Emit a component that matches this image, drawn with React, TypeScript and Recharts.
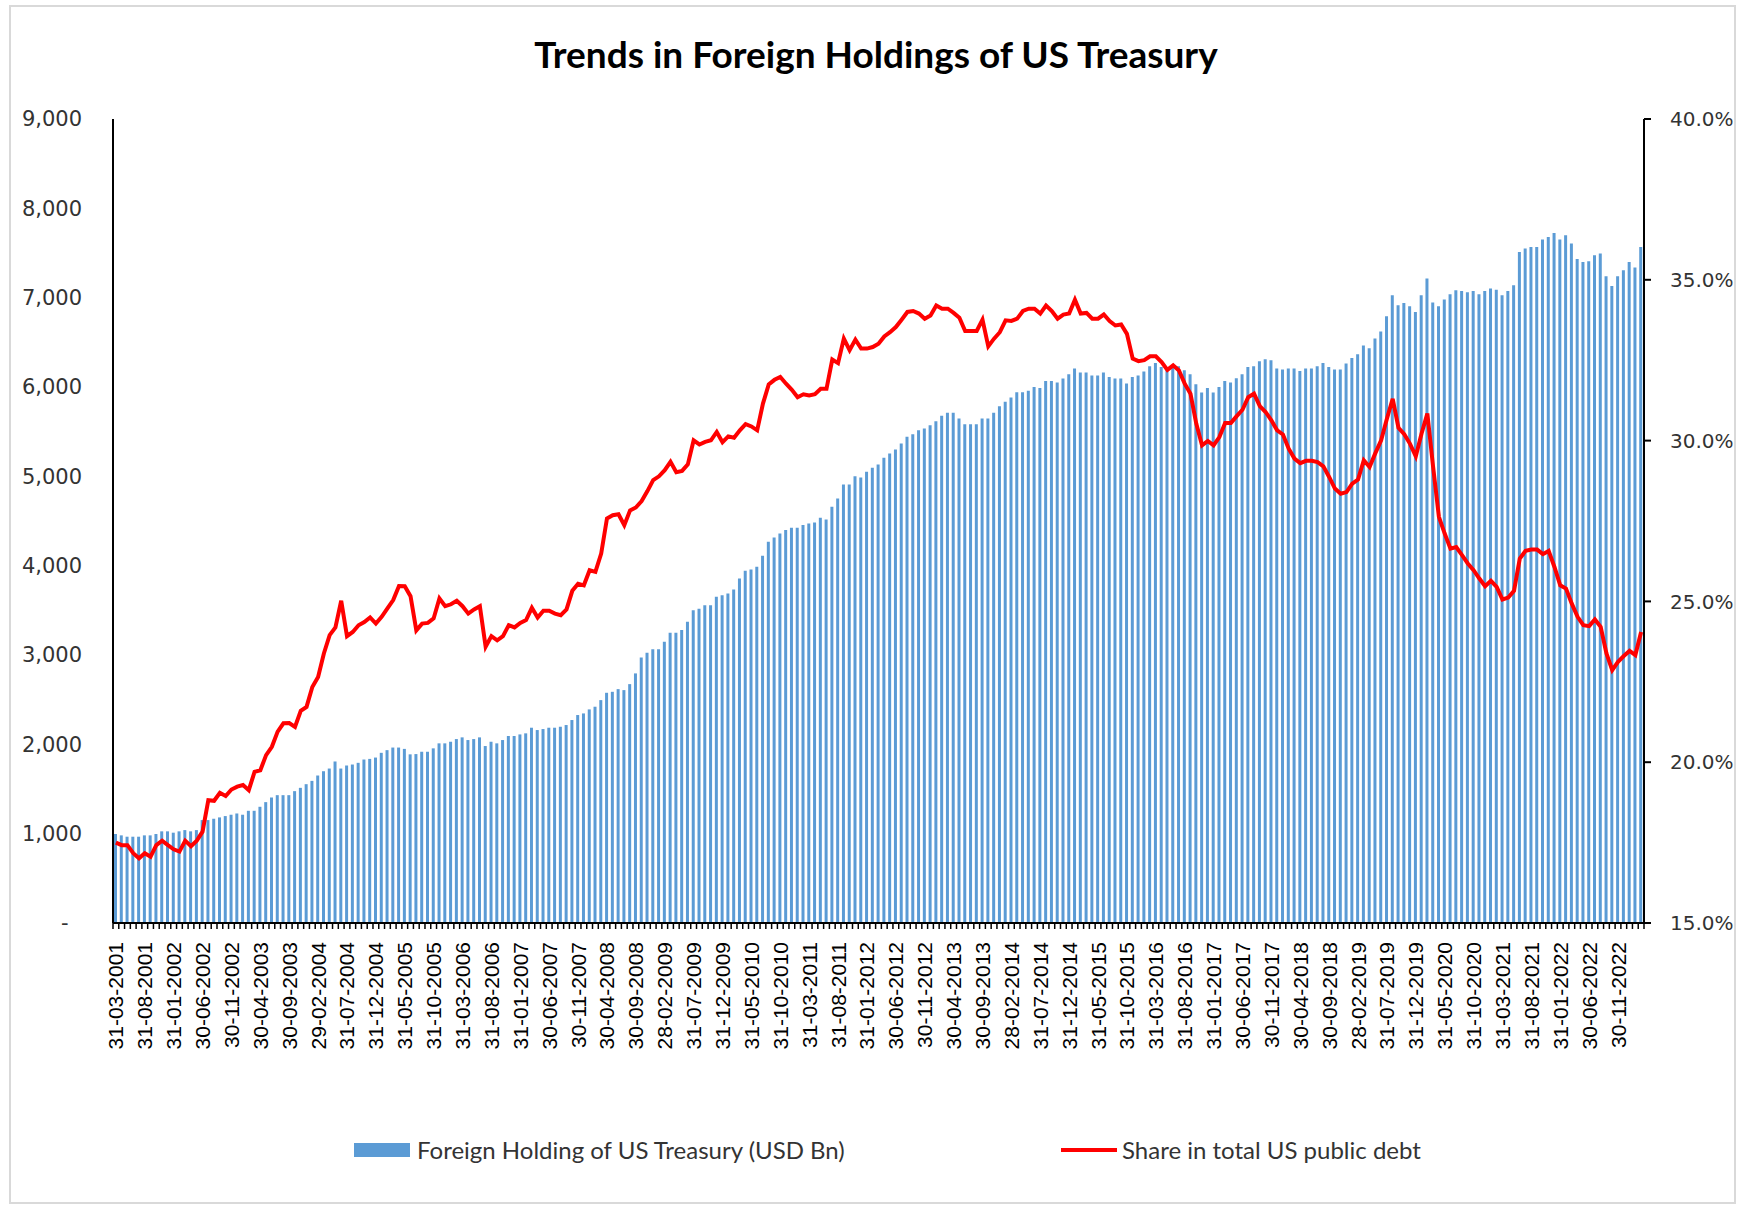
import React from 'react';
import { ComposedChart, Bar, Line, XAxis, YAxis, Legend } from 'recharts';

// monthly series, end of month, starting March 2001
const START_YEAR = 2001;
const START_MONTH = 3;

// Foreign holding of US Treasury (USD Bn)
const holdings = [
  996, 981, 966, 966, 966, 981, 981, 996, 1026, 1026, 1011, 1026, 1040, 1026, 1040,
  1152, 1152, 1167, 1182, 1197, 1212, 1226, 1212, 1256, 1256, 1301, 1353, 1405, 1431, 1431,
  1431, 1476, 1513, 1554, 1591, 1651, 1699, 1729, 1808, 1729, 1763, 1774, 1793, 1830, 1837,
  1852, 1905, 1935, 1964, 1964, 1949, 1888,
  1891, 1917, 1917, 1955, 2011, 2011, 2029, 2059, 2078, 2048, 2059, 2078, 1981, 2029, 2011,
  2048, 2093, 2093, 2111, 2123, 2186, 2160, 2171, 2186, 2186, 2197, 2216, 2272, 2328, 2346,
  2391, 2421, 2495, 2577, 2588, 2618, 2607, 2674, 2794, 2973, 3025, 3063, 3063, 3148, 3249,
  3249, 3279, 3372, 3502, 3517, 3558, 3558, 3651, 3670,
  3689, 3734, 3857, 3942, 3958, 3987, 4110, 4267, 4316, 4361, 4398, 4424, 4424, 4454, 4473,
  4484, 4536, 4518, 4659, 4752, 4909, 4909, 5002, 4987, 5050, 5095, 5133, 5207, 5256, 5301,
  5368, 5442, 5472, 5517, 5535, 5573, 5617, 5677, 5711, 5711, 5647, 5584, 5584, 5584, 5647,
  5647, 5711, 5785, 5834, 5882, 5942, 5942, 5957,
  6001, 5990, 6068, 6068, 6050, 6095, 6143, 6207, 6162, 6162, 6128, 6128, 6162, 6113, 6095,
  6095, 6039, 6113, 6128, 6173, 6233, 6270, 6225, 6218, 6244, 6233, 6188, 6143, 6031, 5938,
  5990, 5938, 6001, 6068, 6050, 6099, 6143, 6225, 6233, 6289, 6311, 6300, 6207, 6196, 6207,
  6207, 6180, 6207, 6207, 6233, 6270, 6225, 6196, 6196, 6263, 6326, 6367, 6464, 6434, 6543,
  6621, 6792, 7027, 6915, 6941, 6904, 6840, 7027, 7214, 6945, 6904, 6979, 7038, 7083, 7075,
  7061, 7075, 7038, 7075, 7102, 7090, 7027, 7075, 7139, 7512, 7550, 7568, 7568, 7650, 7680,
  7724, 7650, 7699, 7606, 7434, 7400, 7408, 7475, 7494, 7240, 7131, 7240, 7307, 7400, 7337, 7568,
];

// Share in total US public debt (%)
const share = [
  17.5, 17.42, 17.42, 17.17, 17.01, 17.17, 17.06, 17.42, 17.56, 17.42, 17.29, 17.22, 17.56, 17.39, 17.56,
  17.84, 18.82, 18.8, 19.05, 18.95, 19.15, 19.24, 19.29, 19.13, 19.7, 19.75, 20.22, 20.48, 20.95, 21.21,
  21.22, 21.1, 21.6, 21.72, 22.34, 22.65, 23.38, 23.95, 24.19, 25.02, 23.92, 24.05, 24.26, 24.36, 24.5,
  24.31, 24.52, 24.78, 25.04, 25.48, 25.47, 25.16, 24.1, 24.31, 24.33, 24.47, 25.09, 24.85, 24.91, 25.02,
  24.85, 24.62, 24.75, 24.85, 23.59, 23.92, 23.79, 23.92, 24.26, 24.19, 24.33, 24.42, 24.8, 24.5, 24.71,
  24.71, 24.62, 24.57, 24.75, 25.33, 25.55, 25.5, 25.97, 25.92, 26.49, 27.58, 27.68, 27.71, 27.37, 27.83,
  27.92, 28.12, 28.43, 28.77, 28.89, 29.08, 29.34, 29.02, 29.06, 29.26, 30.01, 29.88, 29.96, 30.01, 30.27,
  29.95, 30.13, 30.09, 30.32, 30.51, 30.44, 30.32, 31.15, 31.75, 31.89, 31.98, 31.77, 31.58, 31.35, 31.44,
  31.4, 31.44, 31.61, 31.61, 32.52, 32.41, 33.17, 32.81, 33.14, 32.86, 32.86, 32.91, 33.01, 33.24, 33.37,
  33.53, 33.76, 34.0, 34.03, 33.95, 33.79, 33.89, 34.2, 34.1, 34.1, 33.97, 33.82, 33.41, 33.41, 33.41,
  33.76, 32.93, 33.17, 33.37, 33.74, 33.72, 33.79, 34.03, 34.1, 34.1, 33.95, 34.2, 34.03, 33.79, 33.92,
  33.95, 34.38, 33.95, 33.97, 33.79, 33.79, 33.92, 33.72, 33.58, 33.61, 33.32, 32.55, 32.47, 32.5, 32.62,
  32.62, 32.44, 32.2, 32.34, 32.18, 31.77, 31.46, 30.53, 29.85, 29.99, 29.85, 30.11, 30.55, 30.55, 30.76,
  30.96, 31.35, 31.46, 31.07, 30.89, 30.63, 30.32, 30.19, 29.75, 29.44, 29.3, 29.37, 29.37, 29.33, 29.2,
  28.87, 28.51, 28.35, 28.4, 28.66, 28.79, 29.39, 29.18, 29.61, 30.01, 30.68, 31.3, 30.4, 30.2, 29.9,
  29.51, 30.22, 30.84, 29.18, 27.63, 27.11, 26.64, 26.69, 26.44, 26.18, 25.97, 25.71, 25.47, 25.64, 25.45,
  25.06, 25.12, 25.33, 26.33, 26.57, 26.61, 26.61, 26.47, 26.57, 26.07, 25.5, 25.4, 24.93, 24.52, 24.26,
  24.23, 24.44, 24.21, 23.38, 22.86, 23.12, 23.3, 23.46, 23.33, 24.05,
];

const leftTicks = [0, 1000, 2000, 3000, 4000, 5000, 6000, 7000, 8000, 9000];
const rightTicks = [15, 20, 25, 30, 35, 40];
const LABEL_EVERY = 5;

const BAR_COLOR = '#5B9BD5';
const LINE_COLOR = '#FF0000';
const TEXT_COLOR = '#333333';

const W = 1738;
const H = 1207;
const PLOT_LEFT = 113;
const PLOT_RIGHT = 1644;

function monthEnd(i: number) {
  const m0 = START_MONTH - 1 + i;
  const y = START_YEAR + Math.floor(m0 / 12);
  const m = m0 % 12;
  const d = new Date(y, m + 1, 0).getDate();
  return `${String(d).padStart(2, '0')}-${String(m + 1).padStart(2, '0')}-${y}`;
}

const data = holdings.map((h, i) => ({ date: monthEnd(i), holdings: h, share: share[i] }));
const BAND = (PLOT_RIGHT - PLOT_LEFT) / data.length;

function DateTick(props: any) {
  const { x, y, payload, index } = props;
  const idx = payload?.index ?? index;
  const tx = x;
  const ty = y + 13;
  return (
    <g>
      <line x1={x - BAND / 2} x2={x - BAND / 2} y1={y - 6} y2={y} stroke="#000" strokeWidth={1.5} />
      {idx === data.length - 1 && (
        <line x1={x + BAND / 2} x2={x + BAND / 2} y1={y - 6} y2={y} stroke="#000" strokeWidth={1.5} />
      )}
      {idx % LABEL_EVERY === 0 && (
        <text
          x={tx}
          y={ty}
          transform={`rotate(-90 ${tx} ${ty})`}
          textAnchor="end"
          dominantBaseline="central"
          fontSize={21}
          fontFamily="'Liberation Sans', Arial, sans-serif"
          fill="#000"
        >
          {payload.value}
        </text>
      )}
    </g>
  );
}

function LegendBox() {
  const text: React.CSSProperties = {
    position: 'absolute',
    top: 0,
    fontFamily: 'Lato, sans-serif',
    fontSize: 24,
    lineHeight: '40px',
    color: TEXT_COLOR,
    whiteSpace: 'nowrap',
  };
  return (
    <div style={{ position: 'relative', width: W, height: 40 }}>
      <div style={{ position: 'absolute', left: 354, top: 13, width: 56, height: 14, background: BAR_COLOR }} />
      <span style={{ ...text, left: 417 }}>Foreign Holding of US Treasury (USD Bn)</span>
      <div style={{ position: 'absolute', left: 1061, top: 18, width: 56, height: 4, background: LINE_COLOR }} />
      <span style={{ ...text, left: 1122 }}>Share in total US public debt</span>
    </div>
  );
}

export default function App() {
  return (
    <div style={{ position: 'absolute', left: 0, top: 0, width: W, height: H, background: '#fff' }}>
      <div
        style={{
          position: 'absolute',
          left: 9,
          top: 5,
          width: W - 11,
          height: H - 8,
          border: '2px solid #d9d9d9',
          boxSizing: 'border-box',
        }}
      />
      <div
        style={{
          position: 'absolute',
          left: 376,
          top: 32,
          width: 1000,
          height: 44,
          lineHeight: '44px',
          textAlign: 'center',
          fontFamily: 'Lato, sans-serif',
          fontWeight: 700,
          fontSize: 37,
          color: '#000',
        }}
      >
        Trends in Foreign Holdings of US Treasury
      </div>
      <div style={{ position: 'absolute', left: 0, top: 0 }}>
        <ComposedChart
          width={W}
          height={H}
          data={data}
          margin={{ top: 119, right: 0, bottom: 37, left: 13 }}
          barCategoryGap="50%"
        >
          <XAxis
            dataKey="date"
            interval={0}
            height={207}
            tickSize={6}
            tickMargin={0}
            tickLine={false}
            tick={<DateTick />}
            axisLine={{ stroke: '#000', strokeWidth: 2 }}
          />
          <YAxis
            yAxisId="left"
            orientation="left"
            width={100}
            domain={[0, 9000]}
            ticks={leftTicks}
            interval={0}
            tickLine={false}
            tickMargin={25}
            axisLine={{ stroke: '#000', strokeWidth: 2 }}
            tick={{ fontSize: 21, fill: TEXT_COLOR, fontFamily: "'DejaVu Sans', Verdana, sans-serif" }}
            tickFormatter={(v: number) => (v === 0 ? '-\u00A0\u00A0' : v.toLocaleString('en-US'))}
          />
          <YAxis
            yAxisId="right"
            orientation="right"
            width={94}
            domain={[15, 40]}
            ticks={rightTicks}
            interval={0}
            tickSize={7}
            tickMargin={19}
            tickLine={{ stroke: '#000', strokeWidth: 2 }}
            axisLine={{ stroke: '#000', strokeWidth: 2 }}
            tick={{ fontSize: 20, fill: TEXT_COLOR, fontFamily: "'DejaVu Sans', Verdana, sans-serif", textAnchor: 'start' }}
            tickFormatter={(v: number) => `${v.toFixed(1)}%`}
          />
          <Legend
            verticalAlign="bottom"
            align="left"
            wrapperStyle={{ left: 0, width: W }}
            content={() => <LegendBox />}
          />
          <Bar
            yAxisId="left"
            dataKey="holdings"
            name="Foreign Holding of US Treasury (USD Bn)"
            fill={BAR_COLOR}
            barSize={3}
            isAnimationActive={false}
          />
          <Line
            yAxisId="right"
            dataKey="share"
            name="Share in total US public debt"
            type="linear"
            stroke={LINE_COLOR}
            strokeWidth={4}
            dot={false}
            activeDot={false}
            isAnimationActive={false}
          />
        </ComposedChart>
      </div>
    </div>
  );
}
